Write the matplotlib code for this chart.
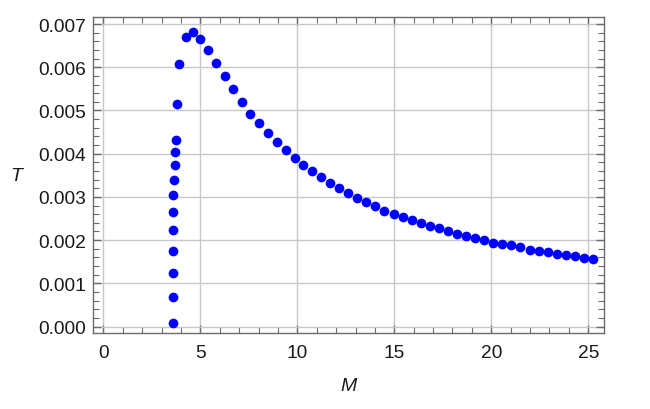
import matplotlib
matplotlib.use("Agg")
import matplotlib.pyplot as plt
from matplotlib.ticker import MultipleLocator, FormatStrFormatter

plt.rcParams['font.family'] = ['Liberation Sans', 'DejaVu Sans']

# Data
M_vals = [3.59, 3.59, 3.61, 3.61, 3.61, 3.61, 3.61, 3.66, 3.68, 3.68, 3.73, 3.80, 3.90,
          4.26, 4.64, 5.00, 5.41, 5.82, 6.27, 6.70, 7.15, 7.58, 8.04, 8.51, 8.97, 9.40, 9.87,
          10.31, 10.77, 11.24, 11.70, 12.16, 12.63, 13.09, 13.56, 14.02, 14.48, 14.97, 15.43,
          15.90, 16.36, 16.82, 17.29, 17.78, 18.25, 18.71, 19.18, 19.64, 20.10, 20.57, 21.03,
          21.49, 21.99, 22.46, 22.92, 23.39, 23.85, 24.31, 24.78, 25.24]
T_vals = [0.000081, 0.000683, 0.001231, 0.001748, 0.002227, 0.002643, 0.003044, 0.003400,
          0.003740, 0.004050, 0.004320, 0.005140, 0.006080,
          0.006690, 0.006820, 0.006650, 0.006390, 0.006100, 0.005790, 0.005490, 0.005200,
          0.004930, 0.004700, 0.004470, 0.004260, 0.004080, 0.003900,
          0.003738, 0.003600, 0.003453, 0.003314, 0.003199, 0.003083, 0.002968, 0.002875,
          0.002782, 0.002681, 0.002611, 0.002535, 0.002458, 0.002389, 0.002326, 0.002273,
          0.002204, 0.002148, 0.002102, 0.002049, 0.001995, 0.001940, 0.001910, 0.001880,
          0.001833, 0.001778, 0.001755, 0.001718, 0.001685, 0.001655, 0.001625, 0.001586,
          0.001556]
x_ticks = [0, 5, 10, 15, 20, 25]
y_ticks = [0.000, 0.001, 0.002, 0.003, 0.004, 0.005, 0.006, 0.007]

fig = plt.figure(figsize=(6.5, 4.1), dpi=100)
ax = fig.add_axes([0.1426, 0.1854, 0.9292 - 0.1426, 0.9554 - 0.1854])

ax.plot(M_vals, T_vals, linestyle='none', marker='o', markersize=7.0,
        color=(0, 0, 1), markeredgewidth=0, zorder=3)

ax.set_xlim(-0.55, 25.81)
ax.set_ylim(-0.000150, 0.007157)
ax.set_xticks(x_ticks)
ax.set_yticks(y_ticks)
ax.xaxis.set_minor_locator(MultipleLocator(1))
ax.yaxis.set_minor_locator(MultipleLocator(0.0002))
ax.yaxis.set_major_formatter(FormatStrFormatter('%.3f'))

ax.grid(True, which='major', color='#c8c8c8', linewidth=1.0, zorder=0)
frame_col = '#6b6b6b'
for s in ax.spines.values():
    s.set_color(frame_col)
    s.set_linewidth(1.0)
ax.tick_params(which='both', direction='in', top=True, right=True, color=frame_col,
               labelsize=13.8, labelcolor='#1a1a1a')
ax.tick_params(which='major', length=6, width=1.0)
ax.tick_params(which='minor', length=4, width=0.8)
ax.tick_params(axis='y', pad=5)
ax.tick_params(axis='x', pad=8)

ax.set_xlabel('M', fontsize=14, color='#1a1a1a', style='italic')
ax.set_ylabel('T', fontsize=14, color='#1a1a1a', style='italic', rotation=0,
              va='center', ha='center')
ax.yaxis.set_label_coords(-0.15, 0.5)
ax.xaxis.set_label_coords(0.5, -0.165)
ax.xaxis.label.set_va('center')

fig.savefig('out.png', dpi=100)
